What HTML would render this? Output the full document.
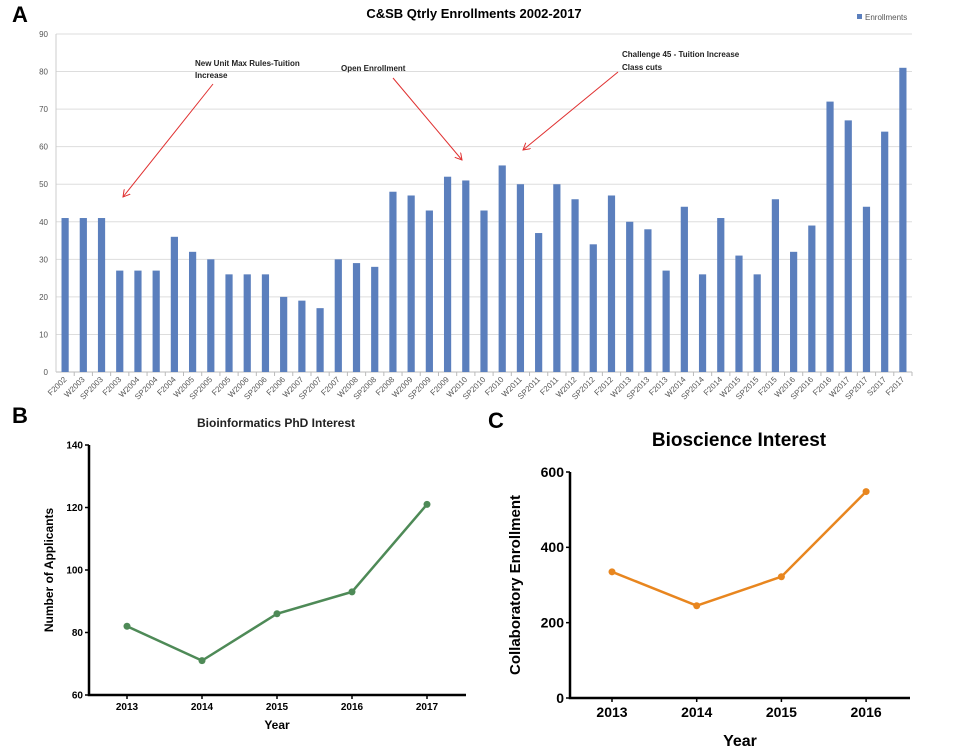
<!DOCTYPE html>
<html><head><meta charset="utf-8"><style>
body{margin:0;background:#fff;}
svg{display:block;font-family:"Liberation Sans",sans-serif;}
</style></head><body>
<svg id="s" width="960" height="750" viewBox="0 0 960 750" xmlns="http://www.w3.org/2000/svg">
<defs><marker id="ar" markerWidth="8" markerHeight="8" refX="7" refY="4" orient="auto" markerUnits="userSpaceOnUse"><path d="M0,0 L7,4 L0,8" fill="none" stroke="#e03030" stroke-width="1"/></marker></defs>
<text x="12" y="22" font-size="22" font-weight="bold">A</text>
<text x="474" y="18" font-size="13" font-weight="bold" text-anchor="middle">C&amp;SB Qtrly Enrollments 2002-2017</text>
<rect x="857" y="14" width="5" height="5" fill="#5b7fbd"/>
<text x="865" y="20" font-size="8" fill="#555">Enrollments</text>
<g id="ga"></g>
<text x="195" y="66" font-size="8" font-weight="bold" fill="#222">New Unit Max Rules-Tuition</text>
<text x="195" y="78" font-size="8" font-weight="bold" fill="#222">Increase</text>
<line x1="213" y1="84" x2="123" y2="197" stroke="#e03030" stroke-width="1" marker-end="url(#ar)"/>
<text x="341" y="71" font-size="8" font-weight="bold" fill="#222">Open Enrollment</text>
<line x1="393" y1="78" x2="462" y2="160" stroke="#e03030" stroke-width="1" marker-end="url(#ar)"/>
<text x="622" y="57" font-size="8" font-weight="bold" fill="#222">Challenge 45 - Tuition Increase</text>
<text x="622" y="70" font-size="8" font-weight="bold" fill="#222">Class cuts</text>
<line x1="618" y1="72" x2="523" y2="150" stroke="#e03030" stroke-width="1" marker-end="url(#ar)"/>

<text x="12" y="423" font-size="22" font-weight="bold">B</text>
<text x="276" y="427" font-size="12" font-weight="bold" text-anchor="middle" fill="#222">Bioinformatics PhD Interest</text>
<g id="gb"></g>
<text x="277" y="729" font-size="12" font-weight="bold" text-anchor="middle">Year</text>
<text transform="translate(53,570) rotate(-90)" font-size="12" font-weight="bold" text-anchor="middle">Number of  Applicants</text>

<text x="488" y="428" font-size="22" font-weight="bold">C</text>
<text x="739" y="446" font-size="19" font-weight="bold" text-anchor="middle">Bioscience Interest</text>
<g id="gc"></g>
<text x="740" y="746" font-size="16" font-weight="bold" text-anchor="middle">Year</text>
<text transform="translate(520,585) rotate(-90)" font-size="15" font-weight="bold" text-anchor="middle">Collaboratory Enrollment</text>
</svg>
<script>
const catsA=["F2002","W2003","SP2003","F2003","W2004","SP2004","F2004","W2005","SP2005","F2005","W2006","SP2006","F2006","W2007","SP2007","F2007","W2008","SP2008","F2008","W2009","SP2009","F2009","W2010","SP2010","F2010","W2011","SP2011","F2011","W2012","SP2012","F2012","W2013","SP2013","F2013","W2014","SP2014","F2014","W2015","SP2015","F2015","W2016","SP2016","F2016","W2017","SP2017","S2017","F2017"];
const valsA=[41,41,41,27,27,27,36,32,30,26,26,26,20,19,17,30,29,28,48,47,43,52,51,43,55,50,37,50,46,34,47,40,38,27,44,26,41,31,26,46,32,39,72,67,44,64,81];
const ticksA=[0,10,20,30,40,50,60,70,80,90];
const yearsB=["2013","2014","2015","2016","2017"];
const valsB=[82,71,86,93,121];
const ticksB=[60,80,100,120,140];
const yearsC=["2013","2014","2015","2016"];
const valsC=[335,245,322,548];
const ticksC=[0,200,400,600];
const NS="http://www.w3.org/2000/svg";
function mk(p,t,a){const e=document.createElementNS(NS,t);for(const k in a)e.setAttribute(k,a[k]);p.appendChild(e);return e;}
// Chart A
const ga=document.getElementById('ga');
const ax0=56,ax1=912,ay0=372,ay1=34;
const yA=v=>ay0-(v/90)*(ay0-ay1);
const bw=(ax1-ax0)/catsA.length;
const xA=i=>ax0+bw*(i+0.5);
ticksA.forEach(t=>{
 const g=mk(ga,'line',{x1:ax0,x2:ax1,y1:yA(t),y2:yA(t),stroke:t===0?'#bbb':'#ddd','stroke-width':1});
 
 
 const l=mk(ga,'text',{x:ax0-8,y:yA(t)+3,'font-size':8,fill:'#555','text-anchor':'end'});
 l.textContent=t;
 
 
});
const yl=mk(ga,'line',{x1:ax0,x2:ax0,y1:ay1,y2:ay0,stroke:'#ccc'});


catsA.forEach((c,i)=>{
 const b=mk(ga,'rect',{x:xA(i)-3.6,y:yA(valsA[i]),width:7.2,height:ay0-yA(valsA[i]),fill:'#5b7fbd'});
 
 
 const tk=mk(ga,'line',{x1:ax0+bw*(i+1),x2:ax0+bw*(i+1),y1:ay0,y2:ay0+4,stroke:'#bbb'});
 
 
 const l=mk(ga,'text',{x:xA(i)+2,y:ay0+8,'font-size':8,fill:'#555','text-anchor':'end',transform:`rotate(-45 ${xA(i)+2} ${ay0+8})`});
 l.textContent=c;
 
 
});
// line chart helper
function lineChart(g,years,vals,ticks,o){
 const y=v=>o.y0-(v-ticks[0])/(ticks[ticks.length-1]-ticks[0])*(o.y0-o.y1);
 const x=i=>o.xs+i*o.dx;
 const ax=mk(g,'path',{d:`M${o.x0},${o.y1} L${o.x0},${o.y0} L${o.xe},${o.y0}`,fill:'none',stroke:'#000','stroke-width':o.aw});
 
 
 ticks.forEach(t=>{
  const tl=mk(g,'line',{x1:o.x0-4,x2:o.x0,y1:y(t),y2:y(t),stroke:'#000','stroke-width':1.5});
  
  
  const l=mk(g,'text',{x:o.x0-6,y:y(t)+o.fs*0.35,'font-size':o.fs,'font-weight':'bold','text-anchor':'end'});
  l.textContent=t;
  
  
 });
 years.forEach((yr,i)=>{
  const tl=mk(g,'line',{x1:x(i),x2:x(i),y1:o.y0,y2:o.y0+4,stroke:'#000','stroke-width':1.5});
  
  
  const l=mk(g,'text',{x:x(i),y:o.y0+o.fs+5,'font-size':o.fs,'font-weight':'bold','text-anchor':'middle'});
  l.textContent=yr;
  
  
 });
 const pl=mk(g,'polyline',{points:vals.map((v,i)=>x(i)+','+y(v)).join(' '),fill:'none',stroke:o.c,'stroke-width':2.5});
 
 
 vals.forEach((v,i)=>{
  const p=mk(g,'circle',{cx:x(i),cy:y(v),r:3.5,fill:o.c});
  
  
 });
}
lineChart(document.getElementById('gb'),yearsB,valsB,ticksB,{x0:89,xe:466,y0:695,y1:445,xs:127,dx:75,c:'#4e8a57',fs:10,aw:2.5});
lineChart(document.getElementById('gc'),yearsC,valsC,ticksC,{x0:570,xe:910,y0:698,y1:472,xs:612,dx:84.7,c:'#e8861f',fs:14,aw:2.5});
</script>
</body></html>
